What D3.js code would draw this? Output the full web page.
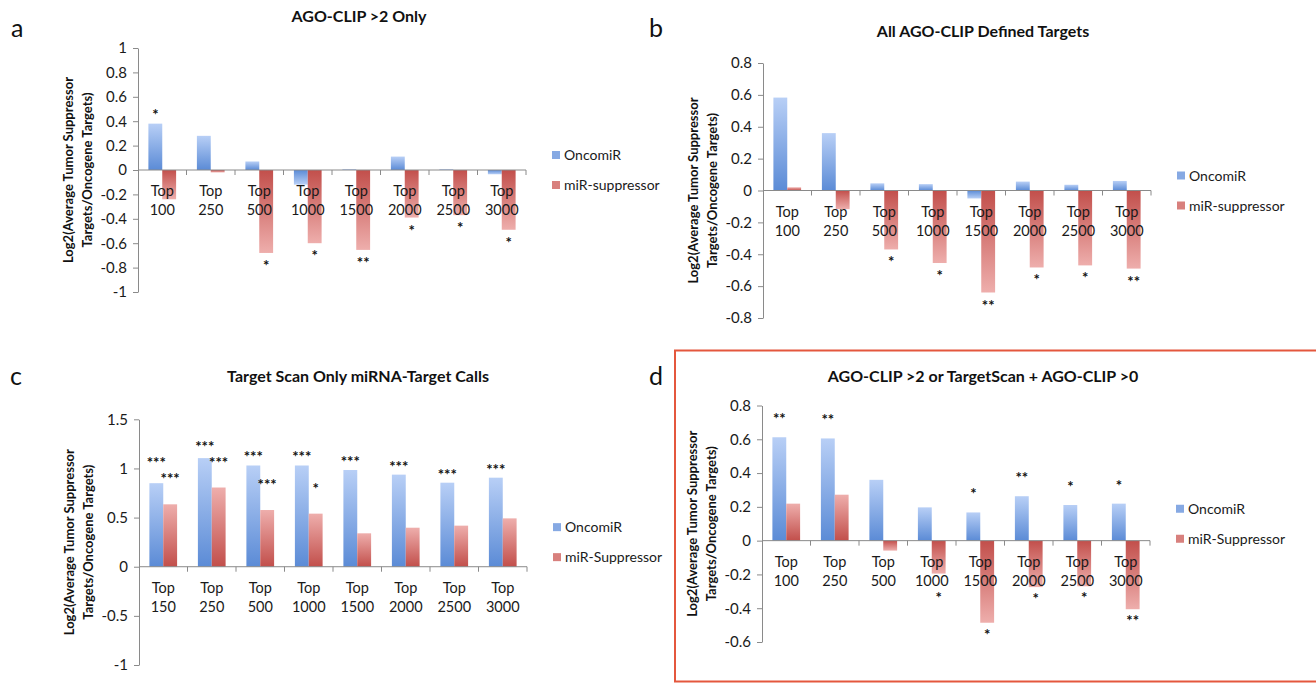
<!DOCTYPE html>
<html><head><meta charset="utf-8">
<script src="https://cdn.jsdelivr.net/npm/d3@7"></script>
<style>
html,body{margin:0;padding:0;background:#fff;}
svg{display:block;font-family:Lato,"Open Sans",sans-serif;}
</style></head>
<body>
<svg id="chart" width="1316" height="687"></svg>
<script>
// ---------------- DATA ----------------
const catsA = ["100","250","500","1000","1500","2000","2500","3000"];
const catsC = ["150","250","500","1000","1500","2000","2500","3000"];

const titleA = "AGO-CLIP >2 Only";
const titleB = "All AGO-CLIP Defined Targets";
const titleC = "Target Scan Only miRNA-Target Calls";
const titleD = "AGO-CLIP >2 or TargetScan + AGO-CLIP >0";

const yTitle1 = "Log2(Average Tumor Suppressor";
const yTitle2 = "Targets/Oncogene Targets)";

const seriesOnc = "OncomiR";
const seriesMirLower = "miR-suppressor";
const seriesMirUpper = "miR-Suppressor";

const oncA = [0.38, 0.28, 0.07, -0.12, 0.006, 0.11, 0.006, -0.035];
const mirA = [-0.24, -0.02, -0.68, -0.60, -0.655, -0.39, -0.37, -0.49];
const oncStarsA = ["*","","","","","","",""];
const mirStarsA = ["","","*","*","**","*","*","*"];

const oncB = [0.583, 0.36, 0.045, 0.04, -0.05, 0.056, 0.036, 0.06];
const mirB = [0.02, -0.117, -0.37, -0.455, -0.64, -0.483, -0.47, -0.49];
const oncStarsB = ["","","","","","","",""];
const mirStarsB = ["","","*","*","**","*","*","**"];

const oncC = [0.85, 1.105, 1.03, 1.03, 0.984, 0.937, 0.855, 0.906];
const mirC = [0.635, 0.806, 0.577, 0.54, 0.34, 0.397, 0.418, 0.492];
const oncStarsC = ["***","***","***","***","***","***","***","***"];
const mirStarsC = ["***","***","***","*","","","",""];

const oncD = [0.612, 0.605, 0.36, 0.197, 0.167, 0.263, 0.211, 0.219];
const mirD = [0.219, 0.272, -0.059, -0.195, -0.486, -0.275, -0.27, -0.406];
const oncStarsD = ["**","**","","","*","**","*","*"];
const mirStarsD = ["","","","*","*","*","*","**"];

const ticksA = [-1,-0.8,-0.6,-0.4,-0.2,0,0.2,0.4,0.6,0.8,1];
const ticksB = [-0.8,-0.6,-0.4,-0.2,0,0.2,0.4,0.6,0.8];
const ticksC = [-1,-0.5,0,0.5,1,1.5];
const ticksD = [-0.6,-0.4,-0.2,0,0.2,0.4,0.6,0.8];

// ---------------- DRAWING ----------------
const svg = d3.select("#chart");
const defs = svg.append("defs");
function grad(id, dark, light, dir){
  const g = defs.append("linearGradient").attr("id", id)
    .attr("x1",0).attr("x2",0)
    .attr("y1", dir === "up" ? 1 : 0).attr("y2", dir === "up" ? 0 : 1);
  g.append("stop").attr("offset","0%").attr("stop-color", dark);
  g.append("stop").attr("offset","100%").attr("stop-color", light);
}
grad("oncUp",  "#5b8bd6", "#b8cff6", "up");
grad("oncDn",  "#5b8bd6", "#b8cff6", "down");
grad("mirUp",  "#c24f4b", "#eeaeac", "up");
grad("mirDn",  "#c24f4b", "#eeaeac", "down");

const fmt = v => { const s = String(+v.toFixed(2)); return s === "-0" ? "0" : s; };

const panels = [
  {letter:"a", lx:11, ly:37, title:titleA, tx:359, ty:22, cats:catsA, onc:oncA, mir:mirA,
   oncStars:oncStarsA, mirStars:mirStarsA, ticks:ticksA, domain:[-1,1], yb:292, yt:48,
   x0:138, mirName:seriesMirLower, oncOff:12, mirOff:10, box:false},
  {letter:"b", lx:649, ly:37, title:titleB, tx:983, ty:37, cats:catsA, onc:oncB, mir:mirB,
   oncStars:oncStarsB, mirStars:mirStarsB, ticks:ticksB, domain:[-0.8,0.8], yb:318, yt:63,
   x0:763, mirName:seriesMirLower, oncOff:12, mirOff:10, box:false},
  {letter:"c", lx:10, ly:385, title:titleC, tx:358, ty:382, cats:catsC, onc:oncC, mir:mirC,
   oncStars:oncStarsC, mirStars:mirStarsC, ticks:ticksC, domain:[-1,1.5], yb:665, yt:419.3,
   x0:139, mirName:seriesMirUpper, oncOff:11, mirOff:28, box:false},
  {letter:"d", lx:649, ly:385, title:titleD, tx:983, ty:382, cats:catsA, onc:oncD, mir:mirD,
   oncStars:oncStarsD, mirStars:mirStarsD, ticks:ticksD, domain:[-0.6,0.8], yb:642, yt:405.5,
   x0:762, mirName:seriesMirUpper, oncOff:21, mirOff:9, box:true}
];

const CAT_W = 48.5;
const AXIS_COL = "#8a8a8a";
const STAR_FS = 15;

svg.append("rect").attr("x",675).attr("y",350.5).attr("width",660).attr("height",331)
  .attr("fill","none").attr("stroke","#e4573d").attr("stroke-width",2);

panels.forEach(p => {
  const g = svg.append("g");
  const x = d3.scaleBand().domain(p.cats).range([p.x0, p.x0 + CAT_W*p.cats.length]).padding(0);
  const xs = d3.scaleBand().domain(["onc","mir"]).range([0, x.bandwidth()]).paddingInner(0).paddingOuter(0.75);
  const y = d3.scaleLinear().domain(p.domain).range([p.yb, p.yt]);
  const y0 = y(0);
  const x1 = x.range()[1];

  // panel letter & title
  svg.append("text").attr("x",p.lx).attr("y",p.ly).attr("font-size",25).attr("fill","#111").text(p.letter);
  svg.append("text").attr("x",p.tx).attr("y",p.ty).attr("text-anchor","middle")
    .attr("font-size",16).attr("font-weight","bold").attr("fill","#111").text(p.title);

  // bars
  const rows = p.cats.map((c,i) => ({c, onc:p.onc[i], mir:p.mir[i], os:p.oncStars[i], ms:p.mirStars[i]}));
  ["onc","mir"].forEach(s => {
    g.selectAll("rect."+s).data(rows).join("rect").attr("class",s)
      .attr("x", d => x(d.c) + xs(s))
      .attr("width", xs.bandwidth())
      .attr("y", d => Math.min(y(d[s]), y0))
      .attr("height", d => Math.abs(y(d[s]) - y0))
      .attr("fill", d => `url(#${s}${d[s] >= 0 ? "Up" : "Dn"})`);
  });

  // y axis
  const ya = d3.axisLeft(y).tickValues(p.ticks).tickFormat(fmt).tickSize(5).tickSizeOuter(0).tickPadding(6);
  const yg = svg.append("g").attr("transform",`translate(${p.x0},0)`).call(ya);
  yg.select(".domain").attr("stroke",AXIS_COL);
  yg.selectAll(".tick line").attr("stroke",AXIS_COL);
  yg.selectAll(".tick text").attr("font-size",15).attr("font-family","Lato").attr("fill","#1a1a1a");

  // x axis line and boundary ticks
  svg.append("line").attr("x1",p.x0).attr("x2",x1).attr("y1",y0).attr("y2",y0)
    .attr("stroke",AXIS_COL).attr("stroke-width",1);
  const bounds = p.cats.map(c => x(c)).concat([x1]);
  svg.selectAll(null).data(bounds.slice(1)).join("line")
    .attr("x1",d=>d).attr("x2",d=>d).attr("y1",y0).attr("y2",y0+5)
    .attr("stroke",AXIS_COL);

  // category labels
  const lab = svg.append("g").attr("font-size",14.5).attr("fill","#1a1a1a").attr("text-anchor","middle");
  rows.forEach(d => {
    const cx = x(d.c) + x.bandwidth()/2;
    lab.append("text").attr("x",cx).attr("y",y0+26).text("Top");
    lab.append("text").attr("x",cx).attr("y",y0+45).text(d.c);
  });

  // significance stars (star centre placed beyond bar tip)
  const st = svg.append("g").attr("font-size",STAR_FS).attr("font-weight","bold").attr("fill","#111").attr("text-anchor","middle");
  rows.forEach(d => {
    const starY = (v, off) => v >= 0 ? y(v) - off : Math.max(y(v) + off, y0 + 54);
    let mirY = d.ms ? starY(d.mir, p.mirOff) : null;
    let oncY = d.os ? starY(d.onc, p.oncOff) : null;
    if (oncY !== null && mirY !== null && d.onc >= 0 && d.mir >= 0) oncY = Math.min(oncY, mirY - 16);
    if (d.os) st.append("text").attr("x", x(d.c) + xs("onc") + xs.bandwidth()/2).attr("y", oncY + 8).text(d.os);
    if (d.ms) st.append("text").attr("x", x(d.c) + xs("mir") + xs.bandwidth()/2).attr("y", mirY + 8).text(d.ms);
  });

  // y axis title
  const mid = (p.yb + p.yt)/2;
  const yt = svg.append("g").attr("transform",`translate(${p.x0},${mid}) rotate(-90)`)
    .attr("font-size",13).attr("font-weight","bold").attr("fill","#111").attr("text-anchor","middle");
  yt.append("text").attr("x",0).attr("y",-65).text(yTitle1);
  yt.append("text").attr("x",0).attr("y",-46).text(yTitle2);

  // legend
  const lx = x1 + 26;
  const lg = svg.append("g").attr("font-size",14).attr("fill","#1a1a1a");
  [[seriesOnc,"#86a9e3",mid-15],[p.mirName,"#d8807d",mid+15]].forEach(([name,col,cy]) => {
    lg.append("rect").attr("x",lx).attr("y",cy-4).attr("width",8).attr("height",8).attr("fill",col);
    lg.append("text").attr("x",lx+12).attr("y",cy+5).text(name);
  });
});
</script>
</body></html>
